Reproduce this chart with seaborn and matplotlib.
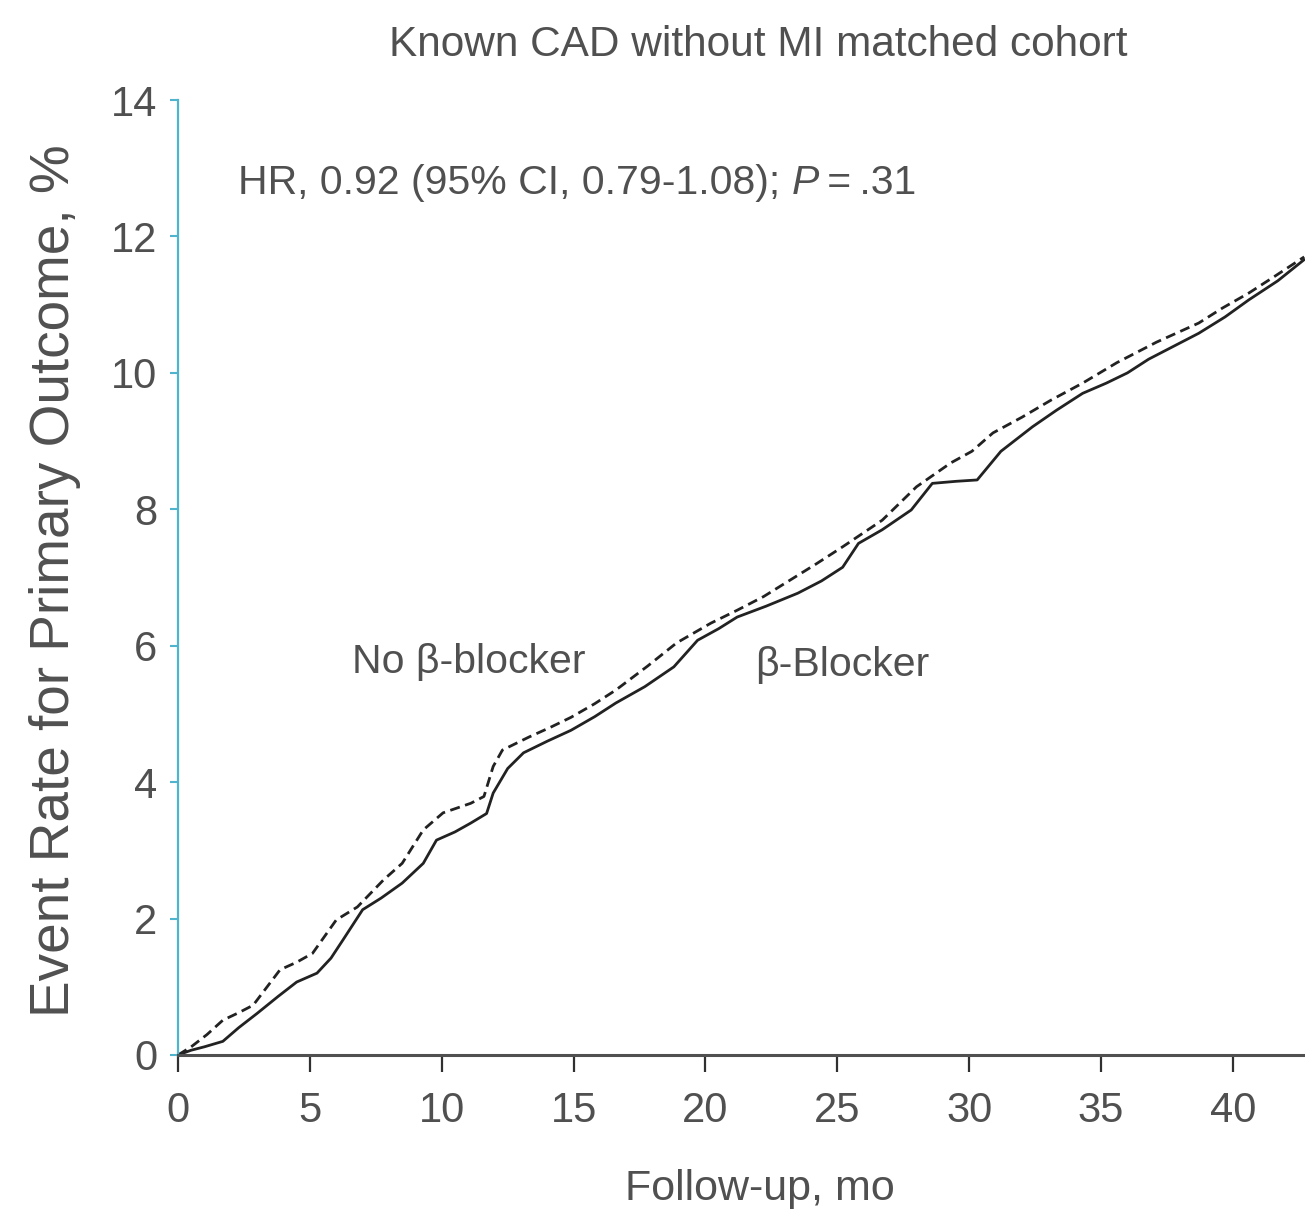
import numpy as np
import pandas as pd
import matplotlib
matplotlib.use("Agg")
import matplotlib.pyplot as plt
import seaborn as sns

# ---- data ----
beta_x = [0, 0.5, 1.0, 1.7, 2.3, 3.0, 3.8, 4.5, 5.27, 5.8, 6.26, 7.0, 7.7, 8.5, 9.3, 9.8,
          10.5, 11.1, 11.7, 11.95, 12.5, 13.1, 14.0, 14.9, 15.8, 16.6, 17.7, 18.8, 19.7,
          20.5, 21.2, 22.3, 23.5, 24.4, 25.2, 25.8, 26.7, 27.8, 28.6, 29.5, 30.3, 31.2,
          32.4, 33.3, 34.3, 35.2, 36.0, 36.8, 37.5, 38.7, 39.7, 40.6, 41.7, 42.7]
beta_y = [0, 0.07, 0.12, 0.2, 0.4, 0.61, 0.86, 1.07, 1.2, 1.42, 1.69, 2.13, 2.3, 2.52, 2.81,
          3.15, 3.27, 3.40, 3.54, 3.84, 4.2, 4.43, 4.6, 4.76, 4.96, 5.16, 5.4, 5.69, 6.08,
          6.25, 6.42, 6.58, 6.77, 6.95, 7.15, 7.5, 7.7, 7.99, 8.38, 8.41, 8.43, 8.85,
          9.21, 9.45, 9.7, 9.85, 10.0, 10.2, 10.34, 10.58, 10.82, 11.07, 11.35, 11.66]

nobeta_x = [0, 0.5, 1.1, 1.7, 2.3, 2.85, 3.87, 4.5, 5.1, 6.0, 6.8, 7.8, 8.5, 9.3, 10.05,
            11.1, 11.6, 11.95, 12.3, 13.3, 14.1, 14.9, 15.8, 16.6, 17.8, 18.9, 20.2, 21.2,
            22.2, 23.2, 24.2, 25.2, 26.7, 28.0, 29.3, 30.1, 30.9, 32.0, 33.1, 34.3, 35.6,
            37.1, 38.7, 39.6, 40.6, 41.6, 42.7]
nobeta_y = [0, 0.12, 0.3, 0.51, 0.62, 0.73, 1.25, 1.36, 1.49, 1.98, 2.17, 2.57, 2.81, 3.30,
            3.55, 3.69, 3.79, 4.23, 4.47, 4.66, 4.8, 4.95, 5.15, 5.35, 5.7, 6.04, 6.33, 6.52,
            6.72, 6.96, 7.2, 7.45, 7.84, 8.33, 8.68, 8.85, 9.12, 9.35, 9.6, 9.85, 10.15,
            10.45, 10.73, 10.95, 11.17, 11.42, 11.7]

x_ticks = [0, 5, 10, 15, 20, 25, 30, 35, 40]
y_ticks = [0, 2, 4, 6, 8, 10, 12, 14]

title = "Known CAD without MI matched cohort"
hr_text = "HR, 0.92 (95% CI, 0.79-1.08); "
p_text = "P"
p_rest = "\u2009=\u2009.31"
label_no = "No β-blocker"
label_beta = "β-Blocker"
xlabel = "Follow-up, mo"
ylabel = "Event Rate for Primary Outcome, %"

# ---- style ----
sns.set_theme(style="white")
plt.rcParams['font.family'] = ['Liberation Sans', 'DejaVu Sans']
TXT = "#505050"
CYAN = "#4fb4cc"

W, H = 1305, 1220
fig = plt.figure(figsize=(W / 100, H / 100), dpi=100)
ax = fig.add_axes([178 / W, 1 - 1055 / H, 1 - 178 / W, (1055 - 100) / H])

df_beta = pd.DataFrame({"x": beta_x, "y": beta_y})
df_no = pd.DataFrame({"x": nobeta_x, "y": nobeta_y})
sns.lineplot(data=df_beta, x="x", y="y", ax=ax, color="#222222", lw=2.0,
             sort=False, estimator=None)
sns.lineplot(data=df_no, x="x", y="y", ax=ax, color="#222222", lw=2.0,
             sort=False, estimator=None, linestyle=(0, (3.6, 2.0)))

ax.set_xlim(0, 42.73)
ax.set_ylim(0, 14)
ax.set_xticks(x_ticks)
ax.set_yticks(y_ticks)
ax.set_xticklabels([str(v) for v in x_ticks])
ax.set_yticklabels([str(v) for v in y_ticks])

for s in ["top", "right"]:
    ax.spines[s].set_visible(False)
ax.spines["left"].set_color(CYAN)
ax.spines["left"].set_linewidth(1.6)
ax.spines["bottom"].set_color("#505050")
ax.spines["bottom"].set_linewidth(2.2)
ax.spines["bottom"].set_zorder(5)

ax.tick_params(axis="x", direction="out", length=12, width=1.6, color="#303030",
               pad=14, labelsize=30, labelcolor=TXT, bottom=True)
ax.tick_params(axis="y", direction="out", length=6, width=1.5, color=CYAN,
               pad=9, labelsize=30, labelcolor=TXT, left=True)

ax.set_xlabel(xlabel, fontsize=31, color=TXT)
ax.xaxis.set_label_coords(0.516, -0.119)
ax.set_ylabel(ylabel, fontsize=39.5, color=TXT)
ax.yaxis.set_label_coords(-0.086, 0.497)
ax.grid(False)

fig.text(758 / W, 1 - 45 / H, title, ha="center", va="center", fontsize=30.5, color=TXT)

t1 = ax.text(2.27, 12.79, hr_text, ha="left", va="center", fontsize=29.5, color=TXT)
t2 = ax.annotate(p_text, xy=(1, 0), xycoords=t1, ha="left", va="bottom",
                 fontsize=29.5, color=TXT, style="italic")
ax.annotate(p_rest, xy=(1, 0), xycoords=t2, ha="left", va="bottom",
            fontsize=29.5, color=TXT)

ax.text(6.6, 5.76, label_no, ha="left", va="center", fontsize=29.5, color=TXT)
ax.text(21.9, 5.72, label_beta, ha="left", va="center", fontsize=29.5, color=TXT)

fig.savefig("out.png", dpi=100)
